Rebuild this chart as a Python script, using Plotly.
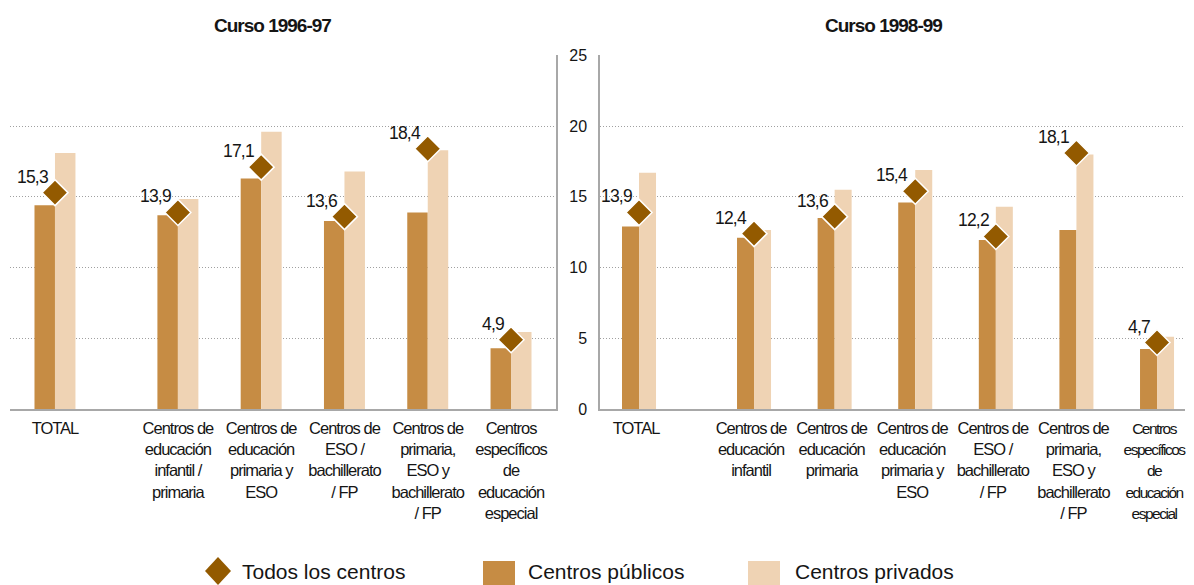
import plotly.graph_objects as go

# ---------------- data ----------------
cats_9697 = ["TOTAL",
             "Centros de<br>educación<br>infantil /<br>primaria",
             "Centros de<br>educación<br>primaria y<br>ESO",
             "Centros de<br>ESO /<br>bachillerato<br>/ FP",
             "Centros de<br>primaria,<br>ESO y<br>bachillerato<br>/ FP",
             "Centros<br>específicos<br>de<br>educación<br>especial"]
publicos_9697 = [14.4, 13.7, 16.3, 13.3, 13.9, 4.3]
privados_9697 = [18.1, 14.85, 19.6, 16.8, 18.3, 5.45]
todos_9697 = [15.3, 13.9, 17.1, 13.6, 18.4, 4.9]
labels_9697 = ["15,3", "13,9", "17,1", "13,6", "18,4", "4,9"]

cats_9899 = ["TOTAL",
             "Centros de<br>educación<br>infantil",
             "Centros de<br>educación<br>primaria",
             "Centros de<br>educación<br>primaria y<br>ESO",
             "Centros de<br>ESO /<br>bachillerato<br>/ FP",
             "Centros de<br>primaria,<br>ESO y<br>bachillerato<br>/ FP",
             "Centros<br>específicos<br>de<br>educación<br>especial"]
publicos_9899 = [12.9, 12.1, 13.5, 14.6, 11.95, 12.65, 4.25]
privados_9899 = [16.7, 12.65, 15.5, 16.9, 14.3, 18.0, 5.1]
todos_9899 = [13.9, 12.4, 13.6, 15.4, 12.2, 18.1, 4.7]
labels_9899 = ["13,9", "12,4", "13,6", "15,4", "12,2", "18,1", "4,7"]

y_ticks = [0, 5, 10, 15, 20, 25]
titles = ["Curso 1996-97", "Curso 1998-99"]
legend_names = ["Todos los centros", "Centros públicos", "Centros privados"]

# ---------------- style ----------------
C_PUB = "#C68C44"
C_PRI = "#EFD3B4"
C_DIA = "#935A00"
GRID = "#A0A0A0"
AXIS = "#A8A8A8"
FONT = "Liberation Sans, Arial, sans-serif"
TXT = "#151515"

OFF = 8  # page body margin in the browser
W, H = 1194 - OFF, 585 - OFF
L, R, T, B = 10 - OFF, 1185 - OFF, 55 - OFF, 409 - OFF


def px2x(px):
    return (px - OFF - L) / (R - L)


def py2y(py):
    return (B - (py - OFF)) / (B - T)


def positions(n, gap):
    return [0.0] + [gap + i for i in range(n - 1)]


def tight(text, ls, size=None):
    # emulate a condensed face with negative letter spacing, line by line
    fs = f"font-size:{size}px;" if size else ""
    return "<br>".join(f"<span style='{fs}letter-spacing:{ls}px'>{ln}</span>" for ln in text.split("<br>"))


x_9697 = positions(len(cats_9697), 1.476)
x_9899 = positions(len(cats_9899), 1.427)

tick_9697 = [tight(c, -1.0) for c in cats_9697]
tick_9899 = [tight(c, -1.0) for c in cats_9899]
# the last label sits at the very right edge of the page: set it a little tighter
tick_9899[-1] = tight(cats_9899[-1], -1.5, 15.5)

fig = go.Figure()

panels = [
    dict(x=x_9697, pub=publicos_9697, pri=privados_9697, tod=todos_9697, lab=labels_9697,
         xa="x", ya="y", bw=0.246),
    dict(x=x_9899, pub=publicos_9899, pri=privados_9899, tod=todos_9899, lab=labels_9899,
         xa="x2", ya="y2", bw=0.211),
]

for p in panels:
    fig.add_trace(go.Bar(x=p["x"], y=p["pub"], width=p["bw"], offset=-p["bw"],
                         marker=dict(color=C_PUB, line=dict(width=0)),
                         name=legend_names[1], xaxis=p["xa"], yaxis=p["ya"], showlegend=False))
    fig.add_trace(go.Bar(x=p["x"], y=p["pri"], width=p["bw"], offset=0,
                         marker=dict(color=C_PRI, line=dict(width=0)),
                         name=legend_names[2], xaxis=p["xa"], yaxis=p["ya"], showlegend=False))
    fig.add_trace(go.Scatter(x=p["x"], y=p["tod"], mode="markers",
                             marker=dict(symbol="diamond", size=20, color=C_DIA,
                                         line=dict(color="white", width=1.5)),
                             name=legend_names[0], xaxis=p["xa"], yaxis=p["ya"], showlegend=False))
    for xv, yv, t in zip(p["x"], p["tod"], p["lab"]):
        fig.add_annotation(x=xv, y=yv, xref=p["xa"], yref=p["ya"], text=tight(t, -0.8),
                           showarrow=False, xanchor="right", yanchor="bottom", xshift=-5, yshift=4,
                           font=dict(family=FONT, size=17.5, color=TXT))

YR = [0, 25.03]
common_x = dict(ticks="outside", ticklen=3, tickcolor="rgba(0,0,0,0)",
                showline=True, linecolor=AXIS, linewidth=1.5, showgrid=False, zeroline=False,
                tickfont=dict(family=FONT, size=16.5, color=TXT), tickangle=0,
                ticklabeloverflow="allow")
common_y = dict(range=YR, tickvals=y_ticks, showline=True, linecolor=AXIS, linewidth=1.5,
                showgrid=True, gridcolor=GRID, griddash="1px,2px", gridwidth=1, zeroline=False)

fig.update_layout(
    width=W, height=H,
    margin=dict(l=L, r=W - R, t=T, b=H - B, pad=0),
    paper_bgcolor="white", plot_bgcolor="white",
    barmode="overlay",
    showlegend=False,
    xaxis=dict(domain=[0, px2x(556)], range=[-0.54, x_9697[-1] + 0.54],
               tickmode="array", tickvals=x_9697, ticktext=tick_9697, **common_x),
    yaxis=dict(domain=[0, 1], showticklabels=False, side="right", ticks="", **common_y),
    xaxis2=dict(domain=[px2x(600), 1], range=[-0.484, x_9899[-1] + 0.347], anchor="y2",
                tickmode="array", tickvals=x_9899, ticktext=tick_9899,
                ticklabelshift=-3, **common_x),
    yaxis2=dict(domain=[0, 1], anchor="x2",
                ticks="outside", ticklen=8, tickcolor="rgba(0,0,0,0)",
                tickfont=dict(family=FONT, size=16, color=TXT), **common_y),
)

# titles
for text, cx in zip(titles, [272, 883]):
    fig.add_annotation(x=px2x(cx), y=py2y(25), xref="paper", yref="paper",
                       text=f"<b>{tight(text, -1.0)}</b>",
                       showarrow=False, xanchor="center", yanchor="middle",
                       font=dict(family=FONT, size=19, color=TXT))

# legend (drawn manually)
cy = 571
fig.add_shape(type="path", xref="paper", yref="paper",
              path=(f"M {px2x(218)},{py2y(cy - 14)} L {px2x(231)},{py2y(cy)} "
                    f"L {px2x(218)},{py2y(cy + 14)} L {px2x(205)},{py2y(cy)} Z"),
              fillcolor=C_DIA, line=dict(width=0))
fig.add_shape(type="rect", xref="paper", yref="paper",
              x0=px2x(483), x1=px2x(515), y0=py2y(561), y1=py2y(586),
              fillcolor=C_PUB, line=dict(width=0))
fig.add_shape(type="rect", xref="paper", yref="paper",
              x0=px2x(748), x1=px2x(780), y0=py2y(561), y1=py2y(586),
              fillcolor=C_PRI, line=dict(width=0))
for text, lx in zip(legend_names, [240, 526, 793]):
    fig.add_annotation(x=px2x(lx), y=py2y(cy), xref="paper", yref="paper", text=text,
                       showarrow=False, xanchor="left", yanchor="middle",
                       font=dict(family=FONT, size=21, color=TXT))

fig.write_html("out.html")
